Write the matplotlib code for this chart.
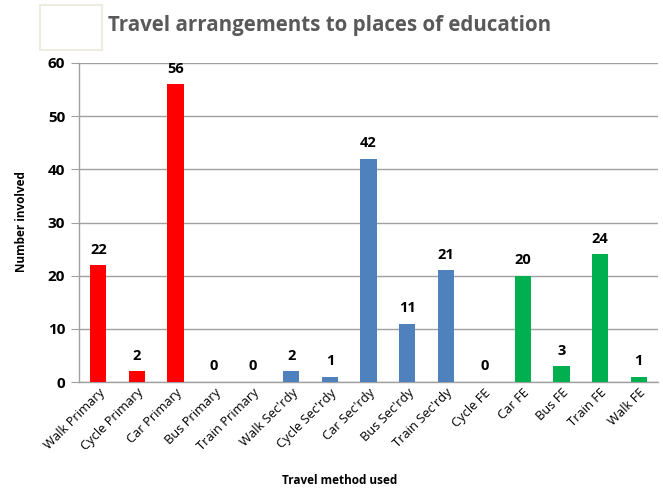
import matplotlib
matplotlib.use("Agg")
import matplotlib.pyplot as plt
from matplotlib.patches import Rectangle

categories = ["Walk Primary", "Cycle Primary", "Car Primary", "Bus Primary", "Train Primary",
              "Walk Sec'rdy", "Cycle Sec'rdy", "Car Sec'rdy", "Bus Sec'rdy", "Train Sec'rdy",
              "Cycle FE", "Car FE", "Bus FE", "Train FE", "Walk FE"]
values = [22, 2, 56, 0, 0, 2, 1, 42, 11, 21, 0, 20, 3, 24, 1]
groups = ["Primary"] * 5 + ["Secondary"] * 5 + ["FE"] * 5
group_colors = {"Primary": "#FF0000", "Secondary": "#4F81BD", "FE": "#00B050"}
y_ticks = [0, 10, 20, 30, 40, 50, 60]

plt.rcParams['font.family'] = ['Open Sans', 'DejaVu Sans']

fig = plt.figure(figsize=(6.63, 4.91), dpi=100)
ax = fig.add_axes([79/663, 1 - 382/491, (658-79)/663, (382-63)/491])

x = list(range(len(categories)))
colors = [group_colors[g] for g in groups]
bars = ax.bar(x, values, width=0.42, color=colors, zorder=3)

for xi, v in zip(x, values):
    ax.text(xi, v + 1.6, str(v), ha='center', va='bottom', fontsize=10.5,
            fontweight='bold', color='black')

ax.set_xlim(-0.5, len(categories) - 0.5)
ax.set_ylim(0, 60)
ax.set_yticks(y_ticks)
ax.set_yticklabels([str(t) for t in y_ticks], fontsize=11, fontweight='bold')
ax.yaxis.grid(True, color='#A0A0A0', linewidth=1.0, zorder=0)
ax.tick_params(axis='y', length=6, color='#A0A0A0', pad=4)
ax.tick_params(axis='x', length=0, pad=3)
ax.set_xticks(x)
ax.set_xticklabels(categories, rotation=45, ha='right', rotation_mode='anchor', fontsize=9.3)

for s in ['top', 'right']:
    ax.spines[s].set_visible(False)
ax.spines['left'].set_color('#A0A0A0')
ax.spines['bottom'].set_color('#A0A0A0')
ax.spines['left'].set_linewidth(1.0)
ax.spines['bottom'].set_linewidth(1.0)

fig.text(22/663, 1 - 222/491, "Number involved", rotation=90, ha='center', va='center',
         fontsize=8.5, fontweight='bold')
fig.text(340/663, 1 - 481/491, "Travel method used", ha='center', va='center',
         fontsize=8.5, fontweight='bold')

# title box
fig.patches.append(Rectangle((40/663, 1 - 50/491), 62/663, 45/491, transform=fig.transFigure,
                             facecolor='white', edgecolor='#EEECE1', linewidth=1.5))
fig.text(108/663, 1 - 26/491, "Travel arrangements to places of education", ha='left', va='center',
         fontsize=14.8, fontweight='bold', color='#595959')

fig.savefig("out.png", dpi=100)
